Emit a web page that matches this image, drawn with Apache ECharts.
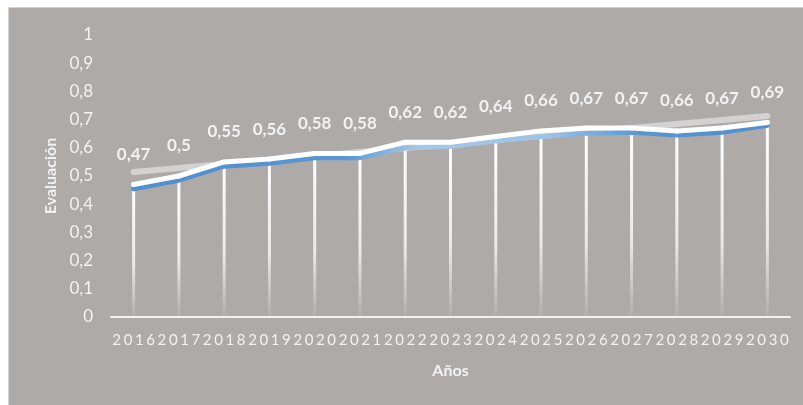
<!DOCTYPE html>
<html>
<head>
<meta charset="utf-8">
<script src="https://cdn.jsdelivr.net/npm/echarts@6/dist/echarts.min.js"></script>
<style>
html,body{margin:0;padding:0;background:#fff;}
#evaluacion{width:803px;height:405px;}
</style>
</head>
<body>
<div id="evaluacion"></div>
<script>
// datos
var anios = ['2016','2017','2018','2019','2020','2021','2022','2023','2024','2025','2026','2027','2028','2029','2030'];
var evaluacion = [0.47,0.5,0.55,0.56,0.58,0.58,0.62,0.62,0.64,0.66,0.67,0.67,0.66,0.67,0.69];
// linea azul (un poco por debajo de la blanca)
var azul = [0.455,0.485,0.535,0.545,0.565,0.565,0.6,0.605,0.625,0.64,0.652,0.655,0.645,0.655,0.68];
// tendencia: solo extremos
var tendencia = [0.514,null,null,null,null,null,null,null,null,null,null,null,null,null,0.713];
var ticksY = ['0','0,1','0,2','0,3','0,4','0,5','0,6','0,7','0,8','0,9','1'];

var fuente = 'Lato, "Open Sans", sans-serif';

var option = {
    animation: false,
    graphic: [{
        type: 'rect',
        left: 8,
        top: 7,
        z: -10,
        shape: {width: 795, height: 398},
        style: {fill: '#aeaaa8', stroke: '#d4d2d0', lineWidth: 1}
    }],
    grid: {
        left: 111,
        right: 13,
        top: 35,
        bottom: 88
    },
    xAxis: {
        type: 'category',
        data: anios,
        name: 'Años',
        nameLocation: 'middle',
        nameGap: 46,
        nameTextStyle: {color: '#f2f2f2', fontSize: 16, fontWeight: 'bold', fontFamily: fuente},
        axisLine: {lineStyle: {color: '#f2f2f2', width: 2}},
        axisTick: {show: false},
        axisLabel: {
            color: '#f2f2f2',
            fontSize: 15,
            fontFamily: fuente,
            margin: 16,
            interval: 0,
            // cada digito en una celda de ancho fijo (texto espaciado)
            formatter: function (v) {
                return v.split('').map(function (c) { return '{d|' + c + '}'; }).join('');
            },
            rich: {
                d: {width: 11.3, align: 'center', color: '#f2f2f2', fontSize: 15, fontFamily: fuente}
            }
        }
    },
    yAxis: {
        type: 'value',
        min: 0,
        max: 1,
        interval: 0.1,
        name: 'Evaluación',
        nameLocation: 'middle',
        nameGap: 52,
        nameTextStyle: {color: '#f2f2f2', fontSize: 16, fontWeight: 'bold', fontFamily: fuente},
        splitLine: {show: false},
        axisLine: {show: false},
        axisTick: {show: false},
        axisLabel: {
            color: '#f2f2f2',
            fontSize: 17,
            fontFamily: fuente,
            margin: 18,
            formatter: function (v) {
                return ticksY[Math.round(v * 10)];
            }
        }
    },
    series: [
        {
            // lineas de caida
            type: 'bar',
            data: evaluacion,
            barWidth: 3,
            itemStyle: {
                color: new echarts.graphic.LinearGradient(0, 0, 0, 1, [
                    {offset: 0, color: 'rgba(255,255,255,1)'},
                    {offset: 0.6, color: 'rgba(255,255,255,0.75)'},
                    {offset: 1, color: 'rgba(255,255,255,0.05)'}
                ])
            }
        },
        {
            type: 'line',
            data: tendencia,
            connectNulls: true,
            showSymbol: false,
            lineStyle: {color: '#d3d2d1', width: 6, cap: 'round'}
        },
        {
            type: 'line',
            data: azul,
            showSymbol: false,
            lineStyle: {
                width: 5,
                cap: 'round',
                color: new echarts.graphic.LinearGradient(0, 0, 1, 0, [
                    {offset: 0, color: '#4f8fd0'},
                    {offset: 0.33, color: '#5896d3'},
                    {offset: 0.45, color: '#a6c8e8'},
                    {offset: 0.65, color: '#9cc2e6'},
                    {offset: 0.8, color: '#5596d4'},
                    {offset: 1, color: '#4f8fd0'}
                ])
            }
        },
        {
            type: 'line',
            data: evaluacion,
            symbol: 'circle',
            symbolSize: 5,
            itemStyle: {color: '#ffffff'},
            lineStyle: {color: '#ffffff', width: 5, cap: 'round'},
            label: {
                show: true,
                position: 'top',
                distance: 19,
                color: '#f2f2f2',
                fontSize: 17,
                fontWeight: 'bold',
                fontFamily: fuente,
                formatter: function (p) {
                    return String(p.value).replace('.', ',');
                }
            }
        }
    ]
};
var myChart = echarts.init(document.getElementById('evaluacion'));
myChart.setOption(option);
</script>
</body>
</html>
